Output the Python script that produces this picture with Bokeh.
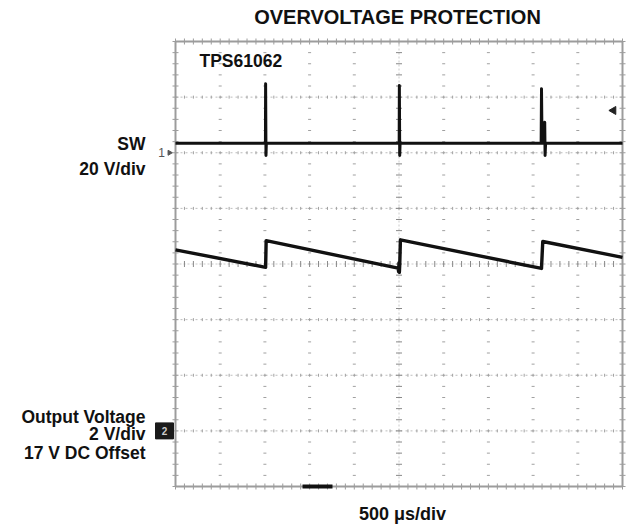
import numpy as np
from bokeh.plotting import figure
from bokeh.models import Range1d
from bokeh.core.properties import value
from bokeh.embed import file_html
from bokeh.resources import INLINE

# ---------------- data ----------------
# SW node, volts (20 V/div, ground marker "1")
sw_time_us = [0, 1002, 1006, 1008, 1012, 1016, 1024,
              2498, 2502, 2504, 2508, 2512, 2520,
              4086, 4090, 4094, 4100, 4126, 4130, 4134, 4140, 4150, 5000]
sw_volts = [3.4, 3.4, 3.4, 24.8, -1.0, 3.4, 3.4,
            3.4, 3.4, 24.2, -1.0, 3.4, 3.4,
            3.4, 3.4, 23.0, 3.4, 3.4, 11.0, -1.0, 3.4, 3.4, 3.4]

# Output voltage, volts (2 V/div, 17 V DC offset)
vout_time_us = [0, 1008, 1014, 2490, 2496, 2500, 2504, 2508, 2516,
                4094, 4108, 5000]
vout_volts = [23.51, 22.88, 23.84, 22.85, 22.72, 23.05, 22.70, 22.95, 23.87,
              22.84, 23.81, 23.24]

title_text = "OVERVOLTAGE PROTECTION"
device_text = "TPS61062"
sw_labels = ["SW", "20 V/div"]
vout_labels = ["Output Voltage", "2 V/div", "17 V DC Offset"]
time_label = "500 \u03bcs/div"

# ---------------- scope setup ----------------
T_DIV = 500          # µs per division
N_XDIV, N_YDIV = 10, 8
SW_VDIV, SW_REF_DIV = 20, 2
VO_VDIV, VO_OFFSET, VO_REF_DIV = 2, 17, -3
TRIG_LEVEL_V = 15.2

W, H = 635, 526
GL, GR, GT, GB = 175, 13, 41, 40          # canvas margins around graticule
px_x = (W - GL - GR) / N_XDIV
px_y = (H - GT - GB) / N_YDIV
x_start = -GL / px_x * T_DIV
x_end = (N_XDIV + GR / px_x) * T_DIV
y_start = -N_YDIV / 2 - GB / px_y
y_end = N_YDIV / 2 + GT / px_y


def px_to_x(X):   # canvas pixel -> time
    return (X - GL) / px_x * T_DIV


def py_to_y(Y):   # canvas pixel -> division
    return N_YDIV / 2 - (Y - GT) / px_y


p = figure(width=W, height=H, x_range=Range1d(x_start, x_end),
           y_range=Range1d(y_start, y_end), output_backend="svg",
           toolbar_location=None, title=None, min_border=0,
           x_axis_location=None, y_axis_location=None)
p.outline_line_color = None
p.xgrid.visible = False
p.ygrid.visible = False
p.background_fill_color = "white"
p.border_fill_color = "white"
p.extra_y_ranges = {
    "sw": Range1d((y_start - SW_REF_DIV) * SW_VDIV, (y_end - SW_REF_DIV) * SW_VDIV),
    "vout": Range1d(VO_OFFSET + (y_start - VO_REF_DIV) * VO_VDIV,
                    VO_OFFSET + (y_end - VO_REF_DIV) * VO_VDIV),
}

# ---------------- graticule ----------------
x_max = N_XDIV * T_DIV
y_half = N_YDIV / 2
x_minor = np.arange(0, x_max + 1, T_DIV / 5)
y_minor = np.arange(-y_half, y_half + 0.01, 0.2)
inner_x = [i * T_DIV for i in range(1, N_XDIV) if i != N_XDIV // 2]
inner_y = [j for j in range(-3, 4) if j != 0]

# horizontal dotted lines
p.multi_line(xs=[[0, x_max]] * len(inner_y), ys=[[y, y] for y in inner_y],
             line_color="#bdbdbd", line_width=1, line_dash="2 3")
# small ticks along horizontal lines
hx = np.repeat(x_minor, len(inner_y))
hy = np.tile(inner_y, len(x_minor))
p.scatter(hx, hy, marker="dash", size=3, angle=np.pi / 2, line_color="#a0a0a0")
# vertical dotted lines (dots at minor divisions)
vx = np.repeat(inner_x, len(y_minor))
vy = np.tile(y_minor, len(inner_x))
p.scatter(vx, vy, marker="dash", size=3, line_color="#a0a0a0")
# center lines
p.multi_line(xs=[[0, x_max], [x_max / 2, x_max / 2]], ys=[[0, 0], [-y_half, y_half]],
             line_color="#cacaca", line_width=1, line_dash="2 2")
p.scatter([x_max / 2] * len(y_minor), y_minor, marker="dash", size=6, line_color="#888888")
p.scatter(x_minor, [0] * len(x_minor), marker="dash", size=6, angle=np.pi / 2,
          line_color="#888888")
# border with ticks
p.quad(left=0, right=x_max, bottom=-y_half, top=y_half, fill_color=None,
       line_color="#9c9c9c", line_width=2)
p.scatter(np.concatenate([x_minor, x_minor]),
          [y_half] * len(x_minor) + [-y_half] * len(x_minor),
          marker="dash", size=6, angle=np.pi / 2, line_color="#9c9c9c")
p.scatter([0] * len(y_minor) + [x_max] * len(y_minor),
          np.concatenate([y_minor, y_minor]),
          marker="dash", size=6, line_color="#9c9c9c")

# ---------------- traces ----------------
p.line(vout_time_us, vout_volts, y_range_name="vout", line_color="#111111",
       line_width=3.4, line_join="round")
p.line(sw_time_us, sw_volts, y_range_name="sw", line_color="#111111",
       line_width=3, line_join="round")

# ---------------- markers ----------------
# channel 1 ground marker
p.text(x=[px_to_x(161)], y=[0], text=["1"], y_range_name="sw",
       text_font=value("Liberation Sans"), text_font_size="12px",
       text_color="#555555", text_align="center", text_baseline="middle")
p.scatter([px_to_x(169)], [0], y_range_name="sw", marker="triangle", size=5,
          angle=-np.pi / 2, fill_color="#555555", line_color="#555555")
# channel 2 offset marker
p.rect(x=[px_to_x(164)], y=[VO_OFFSET], width=18, height=16,
       width_units="screen", height_units="screen", y_range_name="vout",
       fill_color="#1a1a1a", line_color="#1a1a1a")
p.text(x=[px_to_x(164)], y=[VO_OFFSET], text=["2"], y_range_name="vout",
       text_font=value("Liberation Sans"), text_font_size="10px",
       text_font_style="bold", text_color="#cccccc",
       text_align="center", text_baseline="middle")
# trigger level marker
p.scatter([px_to_x(613)], [TRIG_LEVEL_V], y_range_name="sw", marker="triangle",
          size=8, angle=np.pi / 2, fill_color="#222222", line_color="#222222")
# trigger position marker
p.quad(left=[px_to_x(302)], right=[px_to_x(332)], bottom=[py_to_y(488)],
       top=[py_to_y(484)], fill_color="#111111", line_color=None)

# ---------------- texts ----------------
font = value("Liberation Sans")
p.text(x=[px_to_x(397)], y=[py_to_y(16)], text=[title_text], text_font=font,
       text_font_size="20px", text_font_style="bold", text_color="#111111",
       text_align="center", text_baseline="middle")
p.text(x=[px_to_x(199)], y=[py_to_y(60)], text=[device_text], text_font=font,
       text_font_size="17.5px", text_font_style="bold", text_color="#111111",
       text_align="left", text_baseline="middle")
p.text(x=[px_to_x(145)] * 2, y=[py_to_y(143), py_to_y(168)], text=sw_labels,
       text_font=font, text_font_size="17.5px", text_font_style="bold",
       text_color="#111111", text_align="right", text_baseline="middle")
p.text(x=[px_to_x(145)] * 3, y=[py_to_y(416), py_to_y(433), py_to_y(452)],
       text=vout_labels, text_font=font, text_font_size="17.5px",
       text_font_style="bold", text_color="#111111", text_align="right",
       text_baseline="middle")
p.text(x=[px_to_x(402)], y=[py_to_y(513)], text=[time_label], text_font=font,
       text_font_size="18px", text_font_style="bold", text_color="#111111",
       text_align="center", text_baseline="middle")

open("out.html", "w").write(file_html(p, INLINE))
